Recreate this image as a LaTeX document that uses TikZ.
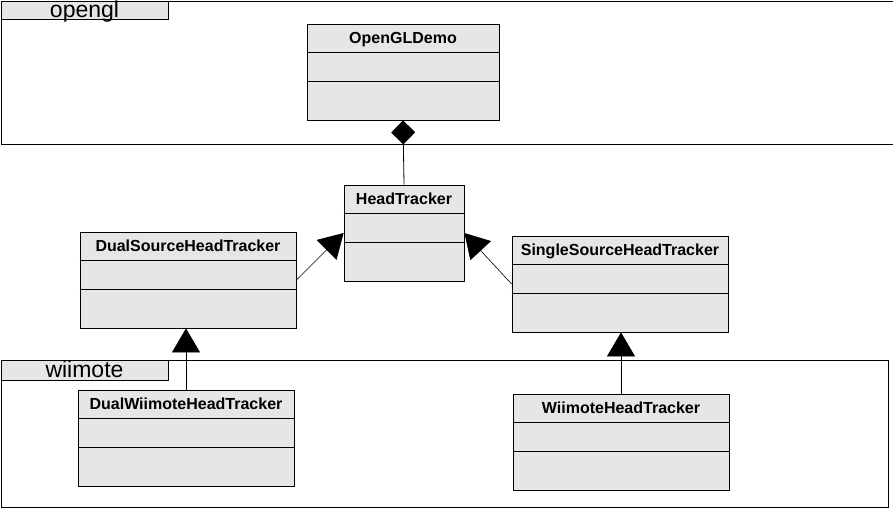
\documentclass[tikz,border=0pt]{standalone}
\usepackage{fontspec}
\setmainfont{Liberation Sans}
\usetikzlibrary{arrows.meta,calc}
\definecolor{umlgray}{RGB}{230,230,230}
\tikzset{
	classbox/.style={draw, fill=umlgray, line width=0.8pt, inner sep=0pt},
	classname/.style={font=\fontsize{16}{19}\selectfont\bfseries, inner sep=0pt, anchor=base},
	pkgframe/.style={draw, line width=0.8pt},
	pkgtab/.style={draw, fill=umlgray, line width=0.8pt},
	pkglabel/.style={font=\fontsize{23}{26}\selectfont, inner sep=0pt, anchor=base},
	inherit/.style={-{Triangle[length=24pt,width=28pt]}, line width=0.6pt},
	compose/.style={-{Diamond[length=24pt,width=24pt]}, line width=0.8pt}
}

\begin{document}
\begin{tikzpicture}[x=1pt,y=-1pt]
        \useasboundingbox (0,0) rectangle (893,509);

        % Packages
        \draw[pkgframe] (894,1) -- (1,1) -- (1,144) -- (894,144);
        \draw[pkgtab] (1,1) rectangle (168,19);
        \node[pkglabel] (opengl) at (84.5,17) {opengl};
        \draw[pkgframe] (1,360) rectangle (888,507);
        \draw[pkgtab] (1,360) rectangle (168,380);
        \node[pkglabel] (wiimote) at (84.5,377) {wiimote};

        % Classes
        \foreach \name/\cx/\cy/\w/\txt in {demo/403/72/192/OpenGLDemo,
                head/404/233/120/HeadTracker,
                dual/188/280/216/DualSourceHeadTracker,
                single/620/284/216/SingleSourceHeadTracker,
                dualwii/186/438/216/DualWiimoteHeadTracker,
                wii/621/442/216/WiimoteHeadTracker} {
            \node[classbox, minimum width=\w pt, minimum height=96pt] (\name) at (\cx,\cy) {};
            \node[classname] (\name-title) at ($(\name.north)+(0,20)$) {\txt};
            \foreach \dy in {29, 58} {
                \draw[line width=0.8pt] ($(\name.north west)+(0,\dy)$) -- ($(\name.north east)+(0,\dy)$);
            }
        }

        % Relations
        \draw[compose] (head.north) -- (demo.south);
        \draw[inherit] (dual.east) -- (head.west);
        \draw[inherit] (single.west) -- (head.east);
        \draw[inherit] (dualwii.north) -- (dualwii.north |- dual.south);
        \draw[inherit] (wii.north) -- (wii.north |- single.south);

\end{tikzpicture}
\end{document}
